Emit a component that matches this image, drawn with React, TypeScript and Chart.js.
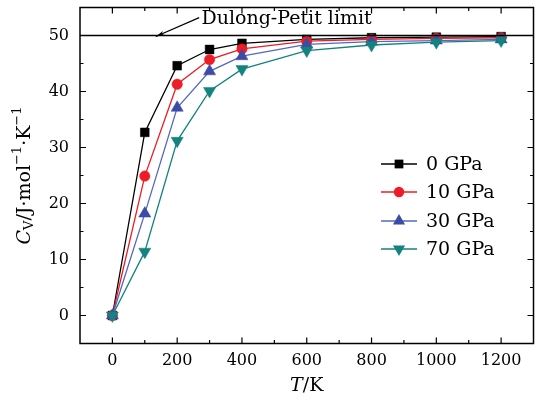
import React, { useEffect, useRef } from "react";
import { Chart, registerables } from "chart.js";

Chart.register(...registerables);

const temperatures = [0, 100, 200, 300, 400, 600, 800, 1000, 1200];
const seriesLabels = ["0 GPa", "10 GPa", "30 GPa", "70 GPa"];
const cv0 = [0, 32.7, 44.6, 47.5, 48.6, 49.3, 49.6, 49.7, 49.8];
const cv10 = [0, 24.9, 41.3, 45.7, 47.6, 49.0, 49.3, 49.5, 49.6];
const cv30 = [0, 18.2, 37.1, 43.6, 46.3, 48.4, 48.9, 49.1, 49.3];
const cv70 = [0, 11.4, 31.2, 40.1, 44.0, 47.3, 48.3, 48.8, 49.1];
const xTicks = [0, 200, 400, 600, 800, 1000, 1200];
const xMinor = [100, 300, 500, 700, 900, 1100];
const yTicks = [0, 10, 20, 30, 40, 50];
const yMinor = [5, 15, 25, 35, 45];
const dulongPetit = 50;
const annotationText = "Dulong-Petit limit";

const lineColors = ["#000000", "#ee1c24", "#5468c0", "#14827f"];
const markerColors = ["#000000", "#ee1c24", "#3a4ca6", "#14827f"];
const markerStyles = ["rect", "circle", "triangle", "triangle"];
const markerRot = [0, 0, 0, 180];
const markerRadius = [6.2, 5.2, 7, 7];

const SERIF = "'DejaVu Serif', serif";

function drawMarker(ctx, style, rot, r, x, y, color) {
  ctx.save();
  ctx.fillStyle = color;
  ctx.strokeStyle = color;
  ctx.beginPath();
  if (style === "rect") {
    const s = r * Math.SQRT1_2;
    ctx.rect(x - s, y - s, 2 * s, 2 * s);
  } else if (style === "circle") {
    ctx.arc(x, y, r, 0, Math.PI * 2);
  } else {
    const dir = rot === 180 ? -1 : 1;
    const a = Math.PI / 6;
    ctx.moveTo(x, y - dir * r);
    ctx.lineTo(x + Math.cos(a) * r, y + dir * Math.sin(a) * r);
    ctx.lineTo(x - Math.cos(a) * r, y + dir * Math.sin(a) * r);
    ctx.closePath();
  }
  ctx.fill();
  ctx.restore();
}

type Seg = { t: string; font: string; dy: number };

function drawRich(ctx, segs: Seg[], cx, cy, rotate) {
  ctx.save();
  let total = 0;
  const widths = segs.map((s) => {
    ctx.font = s.font;
    const w = ctx.measureText(s.t).width;
    total += w;
    return w;
  });
  ctx.translate(cx, cy);
  if (rotate) ctx.rotate(-Math.PI / 2);
  ctx.fillStyle = "#000";
  ctx.textBaseline = "middle";
  ctx.textAlign = "left";
  let x = -total / 2;
  segs.forEach((s, i) => {
    ctx.font = s.font;
    ctx.fillText(s.t, x, s.dy);
    x += widths[i];
  });
  ctx.restore();
}

const decorPlugin = {
  id: "decor",
  afterDatasetsDraw(chart) {
    const { ctx, chartArea: ca, scales } = chart;
    const xs = scales.x;
    const ys = scales.y;
    ctx.save();
    // Dulong-Petit line
    const yl = ys.getPixelForValue(dulongPetit);
    ctx.strokeStyle = "#000";
    ctx.lineWidth = 1.3;
    ctx.beginPath();
    ctx.moveTo(ca.left, yl);
    ctx.lineTo(ca.right, yl);
    ctx.stroke();
    // arrow
    const tipX = xs.getPixelForValue(134);
    const tailX = xs.getPixelForValue(268);
    const tailY = ys.getPixelForValue(53.2);
    const tipY = yl + 1;
    ctx.lineWidth = 1.2;
    ctx.beginPath();
    ctx.moveTo(tailX, tailY);
    ctx.lineTo(tipX, tipY);
    ctx.stroke();
    const ang = Math.atan2(tipY - tailY, tipX - tailX);
    const hl = 9;
    ctx.fillStyle = "#000";
    ctx.beginPath();
    ctx.moveTo(tipX, tipY);
    ctx.lineTo(tipX - hl * Math.cos(ang - 0.25), tipY - hl * Math.sin(ang - 0.25));
    ctx.lineTo(tipX - hl * 0.7 * Math.cos(ang), tipY - hl * 0.7 * Math.sin(ang));
    ctx.lineTo(tipX - hl * Math.cos(ang + 0.25), tipY - hl * Math.sin(ang + 0.25));
    ctx.closePath();
    ctx.fill();
    ctx.font = "19px " + SERIF;
    ctx.textBaseline = "middle";
    ctx.textAlign = "left";
    ctx.fillText(annotationText, xs.getPixelForValue(275), ys.getPixelForValue(52.9));
    // frame
    ctx.lineWidth = 1.5;
    ctx.strokeRect(ca.left, ca.top, ca.right - ca.left, ca.bottom - ca.top);
    // ticks inward
    ctx.lineWidth = 1.2;
    const tick = (vals, len, isX) => {
      vals.forEach((v) => {
        ctx.beginPath();
        if (isX) {
          const p = xs.getPixelForValue(v);
          ctx.moveTo(p, ca.bottom);
          ctx.lineTo(p, ca.bottom - len);
          ctx.moveTo(p, ca.top);
          ctx.lineTo(p, ca.top + len);
        } else {
          const p = ys.getPixelForValue(v);
          ctx.moveTo(ca.left, p);
          ctx.lineTo(ca.left + len, p);
          ctx.moveTo(ca.right, p);
          ctx.lineTo(ca.right - len, p);
        }
        ctx.stroke();
      });
    };
    tick(xTicks, 6, true);
    tick(xMinor, 3.5, true);
    tick(yTicks, 6, false);
    tick(yMinor, 3.5, false);
    // legend
    const lx0 = 381;
    const lx1 = 417;
    const rows = [164, 192, 221, 249];
    seriesLabels.forEach((lab, i) => {
      const y = rows[i];
      ctx.strokeStyle = lineColors[i];
      ctx.lineWidth = 1.3;
      ctx.beginPath();
      ctx.moveTo(lx0, y);
      ctx.lineTo(lx1, y);
      ctx.stroke();
      drawMarker(ctx, markerStyles[i], markerRot[i], markerRadius[i], (lx0 + lx1) / 2, y, markerColors[i]);
      ctx.fillStyle = "#000";
      ctx.font = "19px " + SERIF;
      ctx.textBaseline = "middle";
      ctx.textAlign = "left";
      ctx.fillText(lab, 426, y + 1);
    });
    ctx.restore();
    // axis titles
    const big = "19px " + SERIF;
    const it = "italic 19px " + SERIF;
    const small = "13px " + SERIF;
    drawRich(
      ctx,
      [
        { t: "C", font: it, dy: 0 },
        { t: "V", font: small, dy: 5 },
        { t: "/J·mol", font: big, dy: 0 },
        { t: "−1", font: small, dy: -7 },
        { t: "·K", font: big, dy: 0 },
        { t: "−1", font: small, dy: -7 },
      ],
      25,
      (ca.top + ca.bottom) / 2,
      true
    );
    drawRich(
      ctx,
      [
        { t: "T", font: it, dy: 0 },
        { t: "/K", font: big, dy: 0 },
      ],
      (ca.left + ca.right) / 2,
      386,
      false
    );
  },
};

export default function App() {
  const ref = useRef<HTMLCanvasElement | null>(null);
  useEffect(() => {
    if (!ref.current) return;
    const data = [cv0, cv10, cv30, cv70];
    const chart = new Chart(ref.current, {
      type: "line",
      data: {
        datasets: data.map((vals, i) => ({
          label: seriesLabels[i],
          data: temperatures.map((t, j) => ({ x: t, y: vals[j] })),
          borderColor: lineColors[i],
          backgroundColor: markerColors[i],
          pointBackgroundColor: markerColors[i],
          pointBorderColor: markerColors[i],
          pointBorderWidth: 0.5,
          pointStyle: markerStyles[i] as any,
          pointRotation: markerRot[i],
          pointRadius: markerRadius[i],
          borderWidth: 1.3,
          tension: 0,
          order: 3 - i,
        })),
      },
      plugins: [decorPlugin],
      options: {
        animation: false,
        responsive: false,
        devicePixelRatio: 1,
        layout: { padding: { left: 0, right: 6, top: 5.5, bottom: 0 } },
        plugins: { legend: { display: false }, tooltip: { enabled: false } },
        scales: {
          x: {
            type: "linear",
            min: -100,
            max: 1300,
            afterBuildTicks: (s) => {
              s.ticks = xTicks.map((v) => ({ value: v }));
            },
            afterFit: (s) => {
              s.height = 57.5;
              s.paddingLeft = 0;
              s.paddingRight = 0;
              s.paddingTop = 0;
              s.paddingBottom = 0;
            },
            grid: { display: false, drawTicks: false },
            border: { display: false },
            ticks: {
              font: { family: "DejaVu Serif", size: 16 },
              color: "#000",
              padding: 8,
              maxRotation: 0,
              callback: (v) => String(v),
            },
          },
          y: {
            type: "linear",
            min: -5,
            max: 55,
            afterBuildTicks: (s) => {
              s.ticks = yTicks.map((v) => ({ value: v }));
            },
            afterFit: (s) => {
              s.width = 80;
              s.paddingLeft = 0;
              s.paddingRight = 0;
              s.paddingTop = 0;
              s.paddingBottom = 0;
            },
            grid: { display: false, drawTicks: false },
            border: { display: false },
            ticks: {
              font: { family: "DejaVu Serif", size: 16 },
              color: "#000",
              padding: 11,
              callback: (v) => String(v),
            },
          },
        },
      },
    });
    return () => chart.destroy();
  }, []);
  return (
    <div style={{ position: "fixed", left: 0, top: 0, width: 541, height: 401, background: "#fff" }}>
      <canvas ref={ref} width={541} height={401} style={{ width: 541, height: 401 }} />
    </div>
  );
}
